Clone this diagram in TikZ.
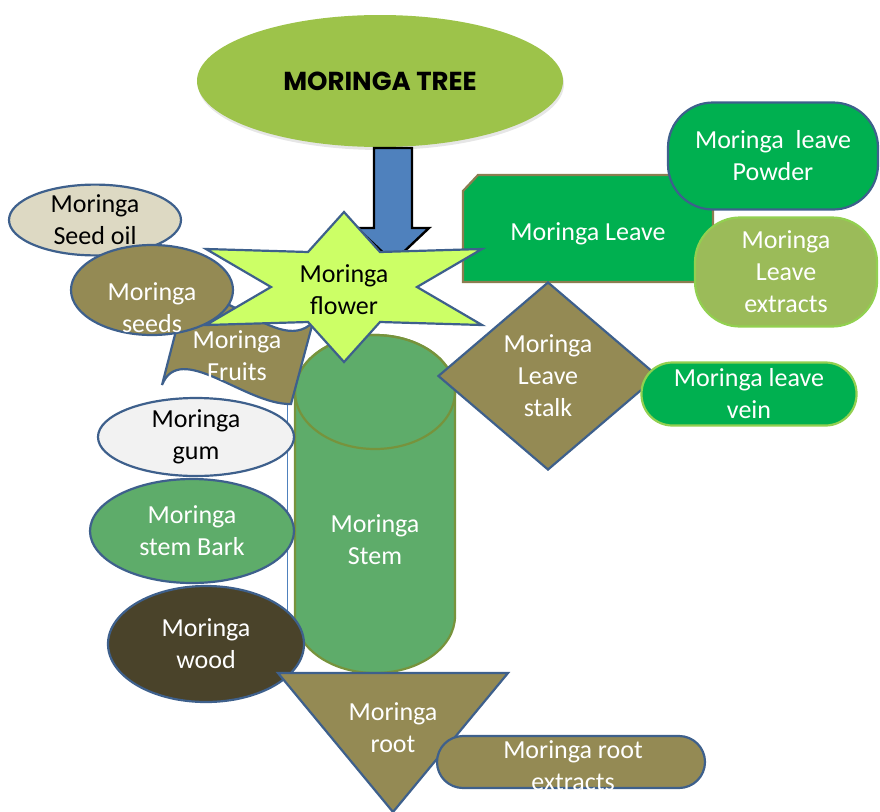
\documentclass[tikz,border=0pt]{standalone}
\usepackage{fontspec}
\setmainfont{Carlito}
\newfontfamily\titlefont{Poppins}
\usetikzlibrary{shapes.geometric,shadows}

\definecolor{treegreen}{RGB}{157,195,74}
\definecolor{flowerlime}{RGB}{204,255,102}
\definecolor{arrowblue}{RGB}{79,129,189}
\definecolor{edgeblue}{RGB}{62,96,140}
\definecolor{leafgreen}{RGB}{0,176,80}
\definecolor{extractgreen}{RGB}{155,187,89}
\definecolor{lightgreen}{RGB}{146,208,80}
\definecolor{olivebrown}{RGB}{148,138,84}
\definecolor{oilbeige}{RGB}{221,217,195}
\definecolor{gumgrey}{RGB}{242,242,242}
\definecolor{stemgreen}{RGB}{94,172,106}
\definecolor{stemedge}{RGB}{119,147,60}
\definecolor{woodbrown}{RGB}{74,67,42}
\definecolor{boxedge}{RGB}{140,125,80}

\begin{document}
\begin{tikzpicture}[x=1pt,y=-1pt,font=\fontsize{26}{32}\selectfont]

    \tikzset{part/.style={draw=edgeblue,line width=2.2pt},
             oval/.style={part,ellipse,inner sep=0pt},
             pill/.style={part,rectangle,inner sep=0pt},
             words/.style={align=center,text=white,inner sep=0pt},
             darkwords/.style={words,text=black}}
    \useasboundingbox (0,0) rectangle (880,811);

    % tree and arrow
    \draw[arrowblue,line width=0.6pt] (287,385) rectangle (380,672);
    \node[ellipse,fill=treegreen,minimum width=366pt,minimum height=132pt,
          drop shadow={opacity=0.2,shadow xshift=1pt,shadow yshift=-3pt},
          font=\titlefont\bfseries\fontsize{26}{30}\selectfont] (tree) at (380,81) {MORINGA TREE};
    \draw[fill=arrowblue,line width=2.4pt] (374,148) -- (412,148) -- (412,228) -- (429,228)
        -- (393,262) -- (357,228) -- (374,228) -- cycle;

    % leaves
    \draw[fill=leafgreen,draw=boxedge,line width=2.2pt] (463,191) -- (478,175) -- (713,175)
        -- (713,282) -- (463,282) -- cycle;
    \node[words] (leave) at (588,234) {Moringa Leave};
    \node[pill,words,fill=leafgreen,rounded corners=45pt,minimum width=210pt,minimum height=107pt] (powder) at (773,156) {Moringa~~leave\\Powder};
    \node[pill,words,fill=extractgreen,draw=lightgreen,rounded corners=45pt,minimum width=182pt,minimum height=109pt] (extracts) at (786,272) {Moringa\\Leave\\extracts};

    % stem
    \draw[fill=stemgreen,draw=stemedge,line width=2.2pt] (295,392) -- (295,616)
        arc[start angle=180,end angle=360,x radius=80pt,y radius=57pt] -- (455,392)
        arc[start angle=0,end angle=180,x radius=80pt,y radius=57pt] -- cycle;
    \draw[stemedge,line width=2.2pt] (375,392) ellipse[x radius=80pt,y radius=57pt];
    \node[words] (stem) at (375,540) {Moringa\\Stem};

    % fruits, flower, seeds
    \draw[part,fill=olivebrown] (178,323) .. controls (200,250) and (275,362) .. (313,322)
        -- (291,404) .. controls (245,405) and (180,340) .. (162,385) -- cycle;
    \node[words] (fruits) at (237,356) {Moringa\\Fruits};
    \draw[part,fill=flowerlime] (344,212) -- (380,252) -- (482,249) -- (417,287) -- (482,325)
        -- (380,322) -- (344,362) -- (308,322) -- (206,325) -- (271,287) -- (206,249)
        -- (308,252) -- cycle;
    \node[darkwords] (flower) at (344,290) {Moringa\\flower};
    \node[oval,darkwords,fill=oilbeige,minimum width=172pt,minimum height=70pt] (oil) at (95,220) {Moringa\\Seed oil};
    \node[oval,fill=olivebrown,minimum width=162pt,minimum height=90pt] (seeds) at (152,290) {};
    \node[words] (seedtext) at (152,308) {Moringa\\seeds};

    % stalk and vein
    \node[part,diamond,words,fill=olivebrown,minimum width=220pt,minimum height=188pt] (stalk) at (548,376) {Moringa\\Leave\\stalk};
    \node[pill,words,fill=leafgreen,draw=lightgreen,rounded corners=31pt,minimum width=215pt,minimum height=63pt] (vein) at (749,394) {Moringa leave\\vein};

    % gum, bark, wood
    \node[oval,darkwords,fill=gumgrey,minimum width=196pt,minimum height=78pt] (gum) at (196,437) {Moringa\\gum};
    \node[oval,words,fill=stemgreen,minimum width=204pt,minimum height=104pt] (bark) at (192,531) {Moringa\\stem Bark};
    \node[oval,words,fill=woodbrown,minimum width=196pt,minimum height=116pt] (wood) at (206,644) {Moringa\\wood};

    % root
    \draw[part,fill=olivebrown] (278,673) -- (508,673) -- (393,812) -- cycle;
    \node[words] (root) at (393,728) {Moringa\\root};
    \node[pill,fill=olivebrown,rounded corners=26pt,minimum width=268pt,minimum height=52pt] (rootbox) at (571,762) {};
    \node[words] (rootext) at (573,766) {Moringa root\\extracts};

\end{tikzpicture}
\end{document}
